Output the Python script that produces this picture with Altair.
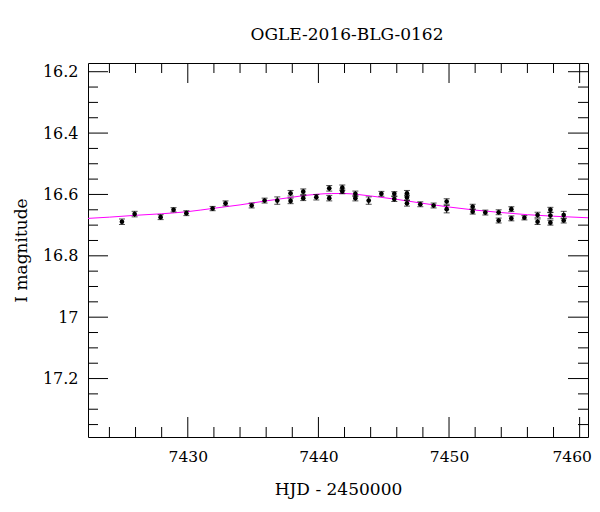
import altair as alt
import pandas as pd

# Observations (HJD - 2450000, I magnitude, error)
hjd = [7424.96, 7425.93, 7427.92, 7428.91, 7429.89, 7431.90, 7432.89, 7434.89, 7435.88, 7436.85,
       7437.87, 7437.87, 7438.84, 7438.84, 7439.84, 7440.83, 7440.83, 7441.83, 7441.83, 7442.83,
       7442.83, 7443.85, 7444.82, 7445.81, 7445.81, 7446.78, 7446.78, 7446.78, 7447.80, 7448.82,
       7449.82, 7449.82, 7451.81, 7451.81, 7452.78, 7453.80, 7453.80, 7454.77, 7454.77, 7455.77,
       7456.78, 7456.78, 7457.76, 7457.76, 7457.76, 7458.78, 7458.78]
mag = [16.689, 16.664, 16.674, 16.650, 16.661, 16.646, 16.629, 16.636, 16.620, 16.620,
       16.596, 16.621, 16.591, 16.612, 16.609, 16.580, 16.612, 16.578, 16.590, 16.598,
       16.612, 16.620, 16.598, 16.598, 16.615, 16.596, 16.610, 16.629, 16.632, 16.636,
       16.623, 16.648, 16.640, 16.656, 16.659, 16.658, 16.685, 16.648, 16.678, 16.676,
       16.667, 16.689, 16.650, 16.669, 16.692, 16.667, 16.685]
err = [0.009, 0.009, 0.008, 0.007, 0.008, 0.007, 0.008, 0.008, 0.008, 0.012,
       0.009, 0.009, 0.009, 0.008, 0.009, 0.009, 0.009, 0.009, 0.008, 0.009,
       0.009, 0.012, 0.008, 0.007, 0.008, 0.009, 0.008, 0.009, 0.008, 0.008,
       0.009, 0.012, 0.008, 0.008, 0.008, 0.008, 0.008, 0.008, 0.008, 0.007,
       0.009, 0.009, 0.008, 0.010, 0.008, 0.012, 0.008]

# Model curve
model_t = [7422.36, 7424, 7426, 7428, 7430, 7432, 7434, 7436, 7438, 7439, 7440, 7441, 7442,
           7443, 7444, 7446, 7448, 7450, 7452, 7454, 7456, 7458, 7460.64]
model_m = [16.678, 16.674, 16.668, 16.663, 16.656, 16.645, 16.634, 16.621, 16.609, 16.603,
           16.599, 16.597, 16.597, 16.600, 16.605, 16.616, 16.629, 16.641, 16.651, 16.659,
           16.666, 16.671, 16.676]

# Tick values
x_major = [7430, 7440, 7450, 7460]
x_minor = [7424, 7426, 7428, 7432, 7434, 7436, 7438, 7442, 7444, 7446, 7448,
           7452, 7454, 7456, 7458]
y_major = [16.2, 16.4, 16.6, 16.8, 17.0, 17.2]
y_minor = [16.25, 16.3, 16.35, 16.45, 16.5, 16.55, 16.65, 16.7, 16.75, 16.85, 16.9, 16.95,
           17.05, 17.1, 17.15, 17.25, 17.3, 17.35]

W, H = 500, 374
MAJ, MIN = 20, 10
FONT = "DejaVu Serif"

obs = pd.DataFrame({"t": hjd, "m": mag, "e": err})
obs["lo"] = obs["m"] - obs["e"]
obs["hi"] = obs["m"] + obs["e"]
model = pd.DataFrame({"t": model_t, "m": model_m})

xscale = alt.Scale(domain=[7422.36, 7460.64], nice=False, zero=False)
yscale = alt.Scale(domain=[16.1716, 17.3905], nice=False, zero=False, reverse=True)

xaxis = alt.Axis(values=x_major, ticks=False, domain=False, grid=False, labelFlush=False,
                 labelOverlap=False, labelBound=False, labelFont=FONT, labelFontSize=15.5,
                 labelOffset={"condition": {"test": "datum.value == 7460", "value": -8}, "value": 0},
                 labelColor="black", labelPadding=12, format="d", title="HJD - 2450000",
                 titleFont=FONT, titleFontSize=17, titleFontWeight="normal", titleColor="black",
                 titleY=57, titleBaseline="alphabetic")
yaxis = alt.Axis(values=y_major, ticks=False, domain=False, grid=False, labelFlush=False,
                 labelOverlap=False, labelFont=FONT, labelFontSize=16, labelColor="black",
                 labelPadding=10, format="~g", title="I magnitude", titleFont=FONT,
                 titleFontSize=17, titleFontWeight="normal", titleColor="black",
                 titleX=-62, titleBaseline="alphabetic")

X = lambda f: alt.X(f, type="quantitative", scale=xscale, axis=xaxis)
Y = lambda f: alt.Y(f, type="quantitative", scale=yscale, axis=yaxis)

line = alt.Chart(model).mark_line(color="#ff00ff", strokeWidth=1, clip=True,
                                  interpolate="monotone").encode(x=X("t"), y=Y("m"))
bars = alt.Chart(obs).mark_rule(color="black", strokeWidth=1).encode(
    x=X("t"), y=Y("lo"), y2="hi")
cap_lo = alt.Chart(obs).mark_tick(color="black", orient="horizontal", size=6, thickness=1).encode(
    x=X("t"), y=Y("lo"))
cap_hi = alt.Chart(obs).mark_tick(color="black", orient="horizontal", size=6, thickness=1).encode(
    x=X("t"), y=Y("hi"))
pts = alt.Chart(obs).mark_circle(color="black", opacity=1, size=22).encode(x=X("t"), y=Y("m"))

layers = [line, bars, cap_lo, cap_hi, pts]

def xticks(vals, ln):
    d = pd.DataFrame({"t": vals})
    top = alt.Chart(d).mark_rule(color="black", strokeWidth=1).encode(
        x=X("t"), y=alt.value(0), y2=alt.value(ln))
    bot = alt.Chart(d).mark_rule(color="black", strokeWidth=1).encode(
        x=X("t"), y=alt.value(H - ln), y2=alt.value(H))
    return [top, bot]

def yticks(vals, ln):
    d = pd.DataFrame({"m": vals})
    left = alt.Chart(d).mark_rule(color="black", strokeWidth=1).encode(
        y=Y("m"), x=alt.value(0), x2=alt.value(ln))
    right = alt.Chart(d).mark_rule(color="black", strokeWidth=1).encode(
        y=Y("m"), x=alt.value(W - ln), x2=alt.value(W))
    return [left, right]

layers += xticks(x_major, MAJ) + xticks(x_minor, MIN) + yticks(y_major, MAJ) + yticks(y_minor, MIN)

chart = alt.layer(*layers).properties(
    width=W, height=H,
    padding={"left": 80, "top": 55, "right": 4, "bottom": 62},
    autosize=alt.AutoSizeParams(type="none"),
    title=alt.TitleParams("OGLE-2016-BLG-0162", font=FONT, fontSize=17, fontWeight="normal",
                          color="black", anchor="middle", dx=9, offset=19),
).configure_view(stroke="black", strokeWidth=1)

chart.save("out.html", embed_options={"renderer": "svg", "actions": False})
